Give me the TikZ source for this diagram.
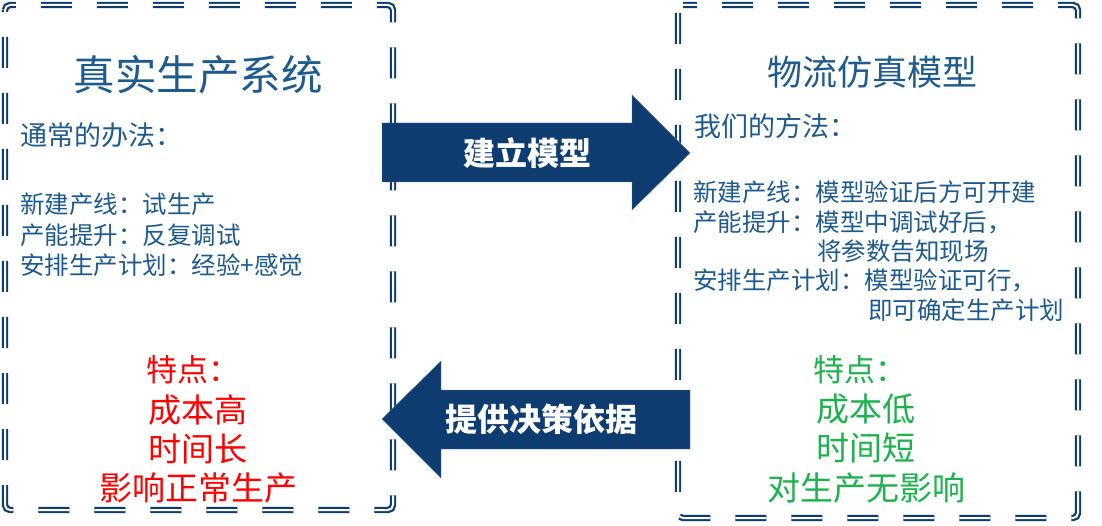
\documentclass[tikz,border=0pt]{standalone}
\usepackage{fontspec}
\setmainfont{Noto Sans CJK SC}
\definecolor{navy}{RGB}{14,60,112}
\definecolor{txtblue}{RGB}{30,90,142}
\definecolor{ared}{RGB}{255,0,0}
\definecolor{agreen}{RGB}{29,178,76}
\tikzset{
  frame/.style={draw=navy, line width=2.2pt, double=white, double distance=2pt,
    dash pattern=on 31pt off 25pt, rounded corners=5pt},
  bigarrow/.style={fill=navy, draw=navy!70, line width=0.4pt},
  txt/.style={inner sep=0pt, text=txtblue},
  fs/.style={font=\fontsize{#1}{#1}\selectfont},
  lst/.style={txt, anchor=west, fs=24.5},
  arrowtxt/.style={inner sep=0pt, text=white, font=\fontsize{32}{32}\selectfont\bfseries},
}
\begin{document}
\begin{tikzpicture}[x=1pt,y=-1pt]
\useasboundingbox (0,0) rectangle (1102,526);
% frames
\coordinate (L1) at (5,5);
\coordinate (L2) at (5,510);
\coordinate (L3) at (393,510);
\coordinate (L4) at (393,5);
\draw[frame, dash phase=29pt] (L1) -- (L2) -- (L3) -- (L4) -- cycle;
\coordinate (R1) at (678,5);
\coordinate (R2) at (1078,5);
\coordinate (R3) at (1078,518);
\coordinate (R4) at (678,518);
\draw[frame, dash phase=17pt] (R1) -- (R2) -- (R3) -- (R4) -- cycle;
% titles
\node[txt, fs=41.5] (t1) at (198,75) {真实生产系统};
\node[txt, fs=35] (t2) at (872,72) {物流仿真模型};
% subtitles
\node[txt, anchor=west, fs=27] (s1) at (20,135) {通常的办法：};
\node[txt, anchor=west, fs=27] (s2) at (694,126) {我们的方法：};
% left list
\node[lst] (l1) at (20,204) {新建产线：试生产};
\node[lst] (l2) at (20,235) {产能提升：反复调试};
\node[lst] (l3) at (20,265) {安排生产计划：经验+感觉};
% right list
\node[lst] (r1) at (693,192) {新建产线：模型验证后方可开建};
\node[lst] (r2) at (693,222) {产能提升：模型中调试好后，};
\node[lst] (r3) at (817,251) {将参数告知现场};
\node[lst] (r4) at (693,280) {安排生产计划：模型验证可行，};
\node[lst] (r5) at (868,310) {即可确定生产计划};
% features left
\node[inner sep=0pt, text=ared, fs=31] (fl0) at (193,370) {特点：};
\node[inner sep=0pt, text=ared, fs=33] (fl1) at (198,410) {成本高};
\node[inner sep=0pt, text=ared, fs=33] (fl2) at (198,449) {时间长};
\node[inner sep=0pt, text=ared, fs=33] (fl3) at (198,488) {影响正常生产};
% features right
\node[inner sep=0pt, text=agreen, fs=31] (fr0) at (860,370) {特点：};
\node[inner sep=0pt, text=agreen, fs=33] (fr1) at (866,409) {成本低};
\node[inner sep=0pt, text=agreen, fs=33] (fr2) at (866,448) {时间短};
\node[inner sep=0pt, text=agreen, fs=33] (fr3) at (866,488) {对生产无影响};
% arrows
\fill[bigarrow] (382,123) -- (632,123) -- (632,95) -- (690,153) -- (632,210) -- (632,182) -- (382,182) -- cycle;
\node[arrowtxt] (a1) at (527,153) {建立模型};
\fill[bigarrow] (690,390) -- (441,390) -- (441,361) -- (382,419) -- (441,478) -- (441,449) -- (690,449) -- cycle;
\node[arrowtxt] (a2) at (541,419) {提供决策依据};
\end{tikzpicture}
\end{document}
